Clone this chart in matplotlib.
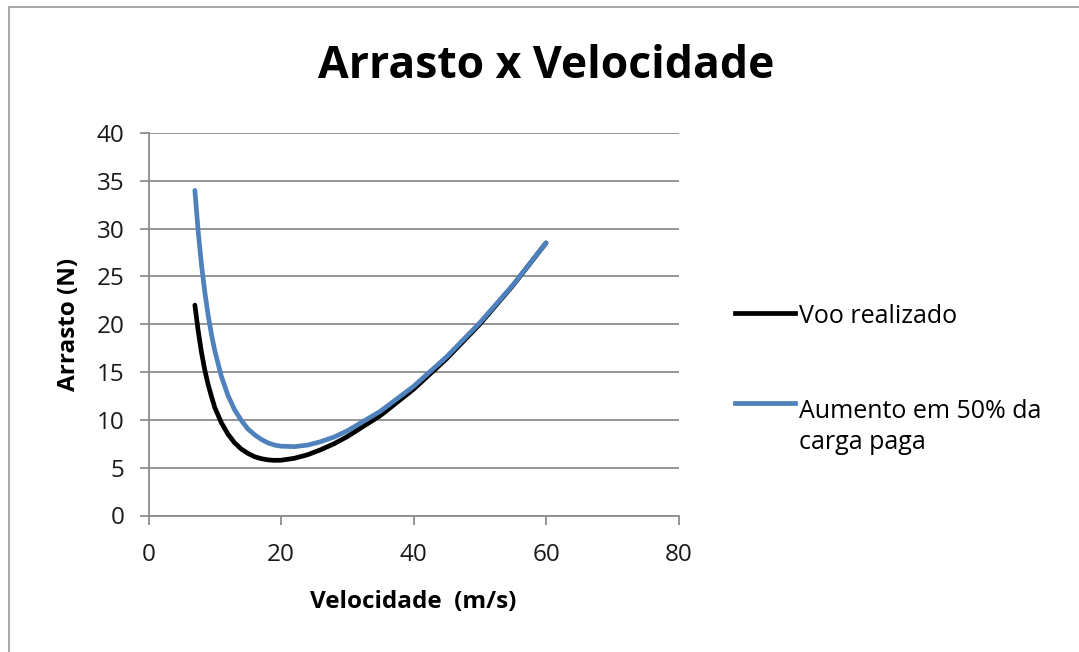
import matplotlib
matplotlib.use("Agg")
import matplotlib.pyplot as plt
from matplotlib.lines import Line2D
from matplotlib.patches import Rectangle

# values
velocidade = [7, 7.5, 8, 8.5, 9, 9.5, 10, 11, 12, 13, 14, 15, 16, 17, 18, 19, 20,
              22, 24, 26, 28, 30, 35, 40, 45, 50, 55, 60]
voo_realizado = [22.0, 19.3, 17.05, 15.2, 13.7, 12.45, 11.3, 9.7, 8.5, 7.6, 6.95,
                 6.5, 6.15, 5.95, 5.82, 5.77, 5.78, 5.98, 6.35, 6.88, 7.5, 8.25,
                 10.45, 13.2, 16.4, 20.0, 24.05, 28.5]
aumento_carga = [34.0, 29.7, 26.2, 23.35, 20.95, 18.95, 17.25, 14.55, 12.55, 11.05,
                 9.95, 9.05, 8.45, 7.97, 7.6, 7.37, 7.25, 7.2, 7.36, 7.72, 8.2,
                 8.85, 10.9, 13.5, 16.6, 20.15, 24.1, 28.5]

labels = [["Voo realizado"], ["Aumento em 50% da", "carga paga"]]
colors = ["#000000", "#4F81BD"]

plt.rcParams["font.family"] = ["Open Sans", "DejaVu Sans"]

W, H = 1079, 652
fig = plt.figure(figsize=(W / 100, H / 100), dpi=100)

# spreadsheet-style frame around the chart
fig.add_artist(Rectangle((9 / W, -0.1), 1.2, 1 - 7 / H + 0.1, transform=fig.transFigure,
                         fill=False, edgecolor="#9a9a9a", linewidth=1.2))

ax = fig.add_axes([148.5 / W, 1 - 515.5 / H, 530 / W, 382.5 / H])
ax.plot(velocidade, voo_realizado, color=colors[0], lw=3.4,
        solid_capstyle="round", solid_joinstyle="round")
ax.plot(velocidade, aumento_carga, color=colors[1], lw=3.4,
        solid_capstyle="round", solid_joinstyle="round")

ax.set_xlim(0, 80)
ax.set_ylim(0, 40)
ax.set_xticks(range(0, 81, 20))
ax.set_yticks(range(0, 41, 5))
ax.grid(axis="y", color="#8c8c8c", linewidth=1.3)
ax.set_axisbelow(True)
for side in ["top", "right"]:
    ax.spines[side].set_visible(False)
for side in ["left", "bottom"]:
    ax.spines[side].set_color("#8c8c8c")
    ax.spines[side].set_linewidth(1.3)
ax.tick_params(direction="out", length=6.5, width=1.3, color="#8c8c8c",
               labelsize=17.5, labelcolor="#1a1a1a")
ax.tick_params(axis="y", pad=11)
ax.tick_params(axis="x", pad=13)

ax.set_xlabel("Velocidade  (m/s)", fontsize=17.5, fontweight="bold", labelpad=17)
ax.set_ylabel("Arrasto (N)", fontsize=17.5, fontweight="bold", labelpad=11)

fig.text(546 / W, 1 - 66 / H, "Arrasto x Velocidade", ha="center", va="center",
         fontsize=32, fontweight="bold")

# legend
leg_y = [313.5, 402.5]
base_y = [[323], [418, 449]]
for c, lines, y, bys in zip(colors, labels, leg_y, base_y):
    fig.add_artist(Line2D([735 / W, 795 / W], [1 - y / H, 1 - y / H],
                          transform=fig.transFigure, color=c, lw=3.4))
    for txt, by in zip(lines, bys):
        fig.text(799 / W, 1 - by / H, txt, ha="left", va="baseline", fontsize=18)

fig.savefig("out.png", dpi=100)
